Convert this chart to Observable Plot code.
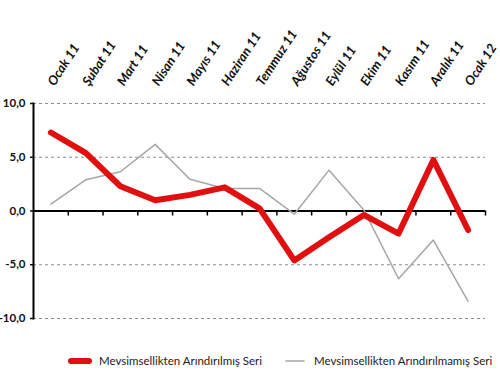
<!DOCTYPE html>
<html>
<head>
<meta charset="utf-8">
<script src="https://cdn.jsdelivr.net/npm/d3@7"></script>
<script src="https://cdn.jsdelivr.net/npm/@observablehq/plot@0.6"></script>
<style>
  html, body { margin: 0; padding: 0; background: #fff; }
  #chart { width: 500px; height: 384px; position: relative; font-family: Lato, "Liberation Sans", sans-serif; }
  .legend { position: absolute; top: 340px; left: 0; width: 500px; height: 44px; font-size: 11.5px; color: #222; }
  .item { position: absolute; top: 14px; display: flex; align-items: center; gap: 7px; }
</style>
</head>
<body>
<div id="chart"></div>
<script>
const months = ["Ocak 11","Şubat 11","Mart 11","Nisan 11","Mayıs 11","Haziran 11","Temmuz 11","Ağustos 11","Eylül 11","Ekim 11","Kasım 11","Aralık 11","Ocak 12"];
const adjusted = [7.3, 5.4, 2.3, 1.0, 1.5, 2.2, 0.25, -4.6, -2.45, -0.37, -2.1, 4.75, -1.77];
const unadjusted = [0.65, 2.9, 3.65, 6.2, 2.95, 2.1, 2.1, -0.3, 3.8, 0.1, -6.3, -2.7, -8.4];
const yTicks = [-10, -5, 0, 5, 10];
const seriesNames = ["Mevsimsellikten Arındırılmış Seri", "Mevsimsellikten Arındırılmamış Seri"];
const seriesColors = ["#e01010", "#a6a6a6"];

const idx = d3.range(months.length);
const bounds = idx.map(i => i + 0.5);
const fmt = d => d.toFixed(1).replace(".", ",");

const plot = Plot.plot({
  width: 500,
  height: 340,
  marginLeft: 33,
  marginRight: 15,
  marginTop: 103,
  marginBottom: 22,
  x: {type: "linear", domain: [-0.5, months.length - 0.5]},
  y: {domain: [-10, 10]},
  style: {fontFamily: "Lato, 'Liberation Sans', sans-serif", background: "#fff", color: "#111"},
  marks: [
    Plot.gridY(yTicks.filter(d => d !== 0), {stroke: "#8c8c8c", strokeOpacity: 1, strokeDasharray: "3,3"}),
    Plot.axisY(yTicks, {tickSize: 3, tickPadding: 5, tickFormat: fmt, fontWeight: "bold", fontSize: 11.5, label: null, strokeWidth: 1.5}),
    Plot.axisX(idx, {anchor: "top", tickSize: 0, tickPadding: 19, tickFormat: i => months[i], tickRotate: -57, textAnchor: "start", fontStyle: "italic", fontWeight: "bold", fontSize: 13, label: null}),
    Plot.frame({anchor: "left", strokeWidth: 2, stroke: "#000"}),
    Plot.ruleY([0], {strokeWidth: 2, stroke: "#000"}),
    Plot.ruleX(bounds, {x: d => d, y1: 0, y2: 0, insetBottom: -5, strokeWidth: 1.5, stroke: "#000"}),
    Plot.line(unadjusted, {x: (d, i) => i, y: d => d, stroke: seriesColors[1], strokeWidth: 1.5}),
    Plot.line(adjusted, {x: (d, i) => i, y: d => d, stroke: seriesColors[0], strokeWidth: 6, strokeLinejoin: "round", strokeLinecap: "round"})
  ]
});

const chart = document.getElementById("chart");
chart.appendChild(plot);

const legend = document.createElement("div");
legend.className = "legend";
const lefts = [68, 283];
const widths = [6, 1.5];
seriesNames.forEach((name, k) => {
  const item = document.createElement("div");
  item.className = "item";
  item.style.left = lefts[k] + "px";
  item.innerHTML = `<svg width="24" height="10"><line x1="3" y1="5" x2="21" y2="5" stroke="${seriesColors[k]}" stroke-width="${widths[k]}" stroke-linecap="round"/></svg><span>${name}</span>`;
  legend.appendChild(item);
});
chart.appendChild(legend);
</script>
</body>
</html>
